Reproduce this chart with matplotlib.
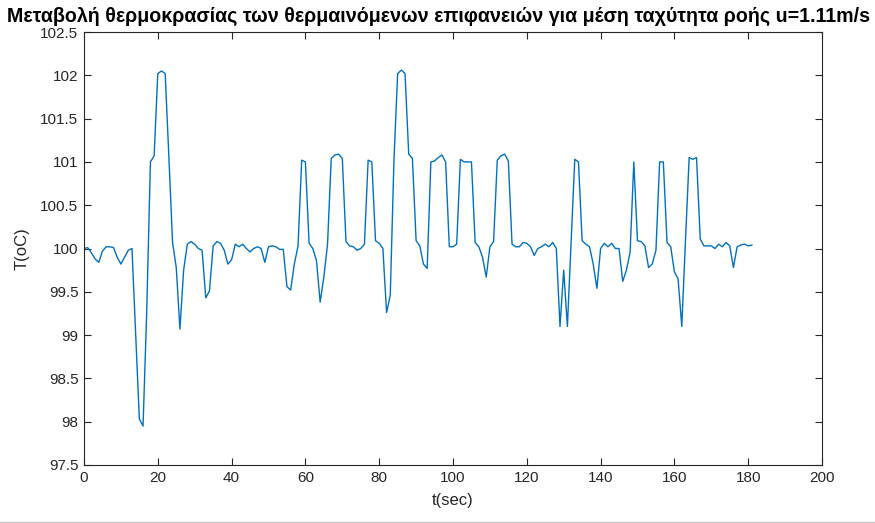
import numpy as np
import matplotlib
matplotlib.use("Agg")
import matplotlib.pyplot as plt
from matplotlib.lines import Line2D

# Surface temperature samples, one per second
t_sec = list(range(0, 182))
temp_c = [
    100.00, 100.01, 99.95, 99.88, 99.84, 99.97, 100.02, 100.02, 100.01, 99.90,
    99.82, 99.90, 99.98, 100.00, 99.00, 98.03, 97.95, 99.28, 101.00, 101.07,
    102.02, 102.05, 102.02, 101.06, 100.07, 99.78, 99.07, 99.75, 100.05, 100.08,
    100.05, 100.00, 99.98, 99.43, 99.51, 100.03, 100.08, 100.06, 99.98, 99.82,
    99.87, 100.05, 100.02, 100.05, 100.00, 99.96, 100.00, 100.02, 100.00, 99.84,
    100.02, 100.03, 100.02, 99.99, 99.99, 99.56, 99.52, 99.82, 100.03, 101.02,
    101.00, 100.06, 100.00, 99.86, 99.38, 99.67, 100.05, 101.04, 101.08, 101.09,
    101.04, 100.08, 100.03, 100.02, 99.98, 100.00, 100.05, 101.02, 101.00, 100.09,
    100.06, 100.00, 99.26, 99.46, 101.02, 102.02, 102.06, 102.02, 101.09, 101.04,
    100.09, 100.03, 99.82, 99.77, 101.00, 101.01, 101.05, 101.08, 101.00, 100.02,
    100.02, 100.05, 101.03, 101.00, 101.00, 101.00, 100.07, 100.02, 99.90, 99.67,
    100.02, 100.08, 101.02, 101.07, 101.09, 101.01, 100.05, 100.02, 100.02, 100.07,
    100.06, 100.02, 99.92, 100.00, 100.02, 100.05, 100.02, 100.07, 100.00, 99.10,
    99.75, 99.10, 100.06, 101.03, 101.00, 100.09, 100.05, 100.02, 99.82, 99.54,
    100.00, 100.06, 100.02, 100.06, 100.00, 100.00, 99.62, 99.75, 99.96, 101.00,
    100.09, 100.08, 100.03, 99.78, 99.82, 99.98, 101.00, 101.00, 100.07, 100.02,
    99.73, 99.65, 99.10, 100.09, 101.05, 101.03, 101.05, 100.11, 100.03, 100.03,
    100.03, 100.00, 100.05, 100.02, 100.07, 100.03, 99.78, 100.02, 100.04, 100.05,
    100.03, 100.04,
]

x_ticks = list(range(0, 201, 20))
y_ticks = [97.5, 98, 98.5, 99, 99.5, 100, 100.5, 101, 101.5, 102, 102.5]
y_tick_labels = ["97.5", "98", "98.5", "99", "99.5", "100", "100.5", "101", "101.5", "102", "102.5"]

title_text = "Μεταβολή θερμοκρασίας των θερμαινόμενων επιφανειών για μέση ταχύτητα ροής u=1.11m/s"

plt.rcParams["font.family"] = ["Liberation Sans", "DejaVu Sans"]

axis_gray = "#262626"
line_blue = "#0072BD"

fig = plt.figure(figsize=(8.75, 5.23), dpi=100)
ax = fig.add_axes([84 / 875, 1 - 465 / 523, (822 - 84) / 875, (465 - 32) / 523])

ax.plot(t_sec, temp_c, color=line_blue, linewidth=1.0)

ax.set_xlim(0, 200)
ax.set_ylim(97.5, 102.5)
ax.set_xticks(x_ticks)
ax.set_xticklabels([str(v) for v in x_ticks])
ax.set_yticks(y_ticks)
ax.set_yticklabels(y_tick_labels)

ax.tick_params(direction="in", length=5, width=0.8, colors=axis_gray,
               labelsize=11, top=True, right=True, pad=4)
for side in ax.spines.values():
    side.set_color(axis_gray)
    side.set_linewidth(0.8)

ax.set_xlabel("t(sec)", fontsize=12, color=axis_gray, labelpad=6)
ax.set_ylabel("T(oC)", fontsize=12, color=axis_gray, labelpad=8)
fig.text(0.5 * (8 + 870) / 875, 1 - 16 / 523, title_text, ha="center", va="center",
         fontsize=14.1, fontweight="bold", color="black")

# thin separator along the bottom edge
fig.add_artist(Line2D([0, 1], [1.5 / 523, 1.5 / 523], color="#c8c8c8", linewidth=1.0,
                      transform=fig.transFigure))

fig.savefig("out.png", dpi=100)
